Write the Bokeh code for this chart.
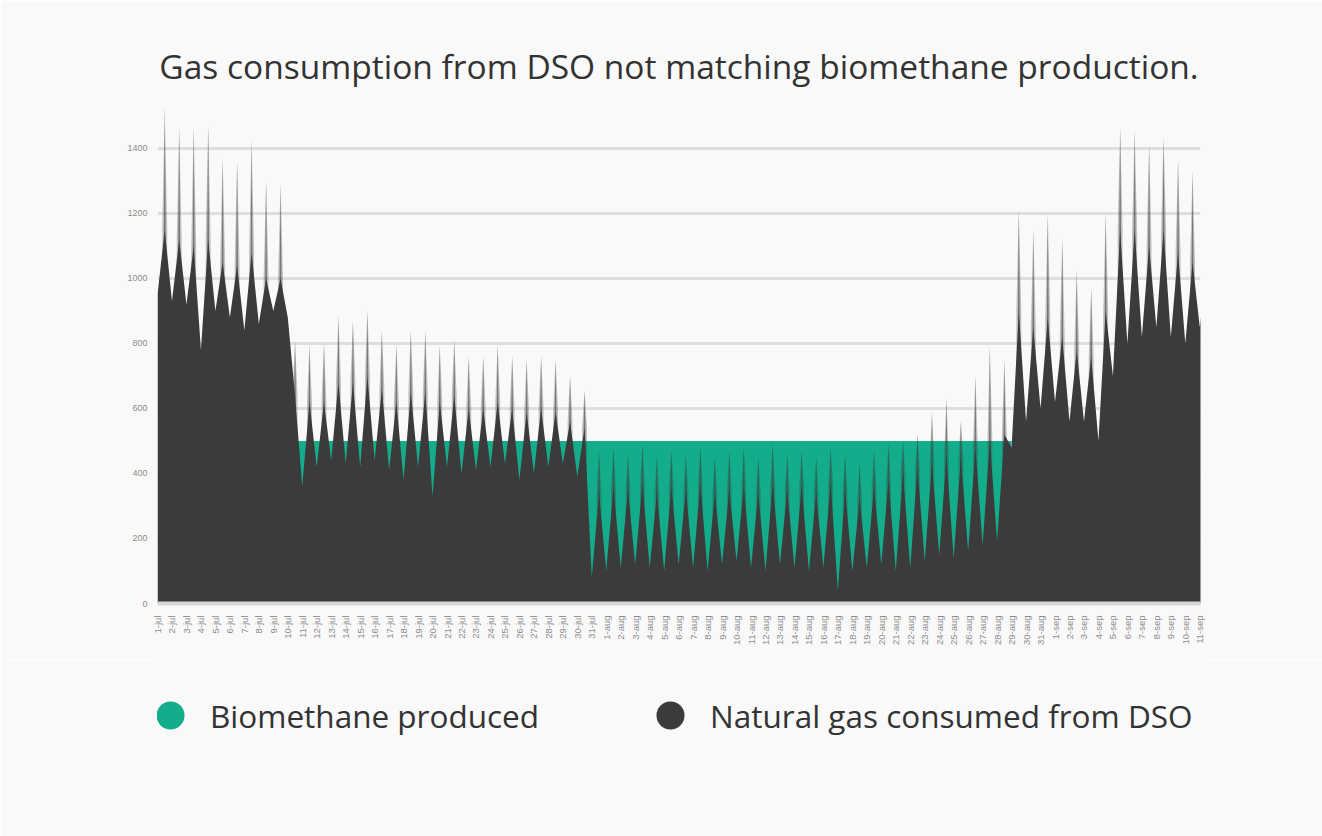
import math
from bokeh.plotting import figure
from bokeh.layouts import column
from bokeh.models import Range1d, FixedTicker, Legend, LegendItem, ColumnDataSource
from bokeh.embed import file_html
from bokeh.resources import INLINE

# ---------------- data ----------------
month_names = ["jul", "aug", "sep"]
month_days = [31, 31, 11]
tick_labels = [f"{d}-{m}" for m, n in zip(month_names, month_days) for d in range(1, n + 1)]

# daily minimum of natural gas consumed from DSO
gas_base = [950, 930, 920, 780, 900, 880, 840, 860, 900,
            880,
            360, 420, 440, 430, 420, 440, 410, 380, 420, 330,
            420, 400, 410, 420, 430, 380, 400, 420, 430, 390,
            80, 100, 110, 120, 110, 100, 120, 110, 100, 120,
            130, 110, 100, 120, 110, 100, 110, 40, 100, 110,
            120, 100, 110, 130, 150, 140, 160, 180, 190,
            480, 560, 600, 620, 560, 560, 500, 700, 800, 820,
            850, 820, 800, 850]
# typical daily level (solid part of the daily profile)
gas_mid = [1150, 1120, 1100, 1120, 1050, 1040, 1080, 1000, 1000,
           640, 620, 620, 680, 680, 700, 660, 620, 650, 650,
           620, 640, 600, 600, 620, 600, 590, 600, 590, 560, 540,
           340, 360, 350, 370, 340, 360, 350, 370, 340, 350,
           360, 340, 370, 350, 360, 340, 370, 350, 320, 360,
           380, 400, 420, 430, 450, 450, 480, 500, 520,
           900, 850, 880, 820, 780, 760, 900, 1150, 1150, 1100,
           1150, 1080, 1050, 1050]
# daily peak
gas_peak = [1526, 1465, 1465, 1470, 1372, 1363, 1425, 1300, 1292,
            810, 795, 800, 885, 870, 900, 840, 795, 840, 840,
            795, 810, 760, 760, 795, 760, 750, 760, 750, 700, 655,
            470, 480, 460, 490, 450, 470, 460, 480, 450, 470,
            480, 450, 490, 460, 470, 450, 480, 460, 430, 470,
            490, 500, 520, 590, 630, 560, 700, 790, 750,
            1210, 1150, 1200, 1125, 1025, 970, 1200, 1465, 1455, 1415,
            1435, 1365, 1330, 1250]
biomethane = [0] * 9 + [500] * 50 + [0] * 14

y_ticks = [0, 200, 400, 600, 800, 1000, 1200, 1400]
days = list(range(len(tick_labels)))
legend_labels = ["Biomethane produced", "Natural gas consumed from DSO"]

DARK = "#3b3b3b"
TEAL = "#14ad8b"
BG = "#f9f9f9"

W = 1322
p = figure(width=W, height=660, output_backend="svg", toolbar_location=None,
           x_range=Range1d(0, 72.05), y_range=Range1d(0, 1563),
           min_border_left=157, min_border_right=122, min_border_top=95, min_border_bottom=57,
           background_fill_color=BG, border_fill_color=BG, outline_line_color=None)

p.title.text = "Gas consumption from DSO not matching biomethane production."
p.title.align = "center"
p.title.text_font = "Open Sans"
p.title.text_font_size = "33.5px"
p.title.text_font_style = "normal"
p.title.text_color = "#333333"
p.title.standoff = 14

# biomethane (teal step area)
p.varea_step(x=days, y1=[0] * len(days), y2=biomethane, step_mode="after",
             fill_color=TEAL, fill_alpha=1.0)

# faint daily peaks
for half, alpha in [(0.17, 0.30), (0.06, 0.55)]:
    xs = [[d + 0.5 - half, d + 0.5 - half, d + 0.5, d + 0.5 + half, d + 0.5 + half] for d in days]
    ys = [[0, m, pk, m, 0] for m, pk in zip(gas_mid, gas_peak)]
    p.patches(xs=xs, ys=ys, fill_color=DARK, fill_alpha=alpha, line_color=None)

# solid consumption profile
sx, sy = [], []
for d, b, m in zip(days, gas_base, gas_mid):
    sx += [d, d + 0.5]
    sy += [b, m]
src = ColumnDataSource(dict(x=sx, y=sy))
p.varea(x="x", y1=0, y2="y", source=src, fill_color=DARK, fill_alpha=1.0)

# grid & axes
p.xgrid.visible = False
p.ygrid.ticker = FixedTicker(ticks=y_ticks)
p.ygrid.grid_line_color = "#dedede"
p.ygrid.grid_line_width = 3

p.yaxis.ticker = FixedTicker(ticks=y_ticks)
p.yaxis.axis_line_color = None
p.yaxis.major_tick_line_color = None
p.yaxis.minor_tick_line_color = None
p.yaxis.major_label_text_font_size = "9px"
p.yaxis.major_label_text_color = "#8c8c8c"
p.yaxis.major_label_standoff = 4

p.xaxis.ticker = FixedTicker(ticks=days)
p.xaxis.major_label_overrides = {d: lbl for d, lbl in zip(days, tick_labels)}
p.xaxis.major_label_orientation = math.pi / 2
p.xaxis.major_label_text_font_size = "9.5px"
p.xaxis.major_label_text_color = "#8c8c8c"
p.xaxis.major_label_standoff = 6
p.xaxis.axis_line_color = "#d6d6d6"
p.xaxis.axis_line_width = 4
p.xaxis.major_tick_line_color = None
p.xaxis.minor_tick_line_color = None

# legend in its own strip below the chart
pl = figure(width=W, height=176, output_backend="svg", toolbar_location=None,
            x_range=Range1d(0, 1), y_range=Range1d(0, 1),
            min_border=0, background_fill_color=BG, border_fill_color=BG,
            outline_line_color=None)
pl.axis.visible = False
pl.grid.visible = False
nan = float("nan")
r_bio = pl.scatter(x=[nan], y=[nan], marker="circle", size=28, fill_color=TEAL, line_color=None)
r_gas = pl.scatter(x=[nan], y=[nan], marker="circle", size=28, fill_color=DARK, line_color=None)
legend = Legend(items=[LegendItem(label=legend_labels[0], renderers=[r_bio]),
                       LegendItem(label=legend_labels[1], renderers=[r_gas])],
                location=(-22, 86), orientation="horizontal",
                glyph_width=70, glyph_height=70, label_standoff=5, spacing=96,
                padding=0, margin=0, border_line_color=None, background_fill_alpha=0,
                label_text_font="Open Sans", label_text_font_size="31.5px",
                label_text_color="#333333")
pl.add_layout(legend)

layout = column(p, pl, spacing=0)
open("out.html", "w").write(file_html(layout, INLINE))
